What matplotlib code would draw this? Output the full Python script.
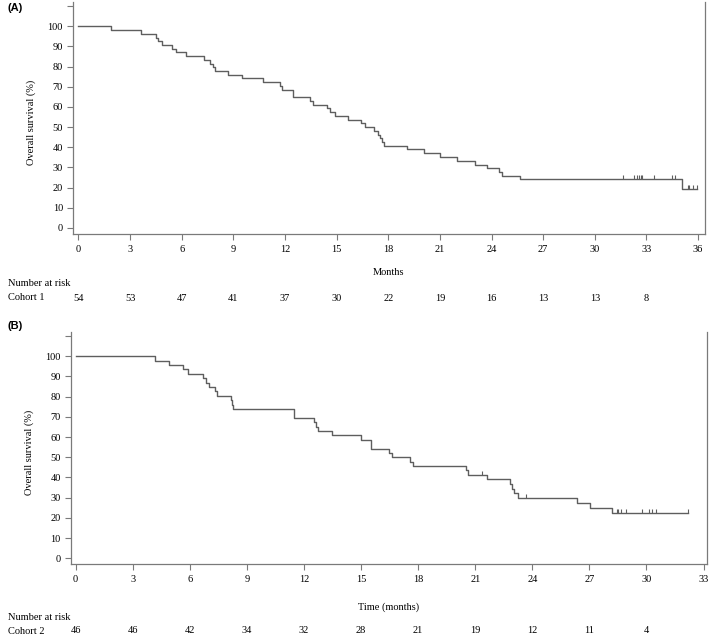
import matplotlib
matplotlib.use("Agg")
import matplotlib.pyplot as plt
import matplotlib.transforms as mtransforms

plt.rcParams['font.family'] = ['Liberation Serif', 'DejaVu Serif']

# ---- Cohort 1 (panel A) ----
time_a = [0, 1.88, 3.66, 4.53, 4.65, 4.84, 5.42, 5.66, 6.25, 7.32, 7.65, 7.80, 7.96,
          8.67, 9.53, 10.73, 11.71, 11.85, 12.49, 13.44, 13.61, 14.46, 14.62, 14.91,
          15.68, 16.42, 16.65, 17.17, 17.42, 17.50, 17.62, 17.77, 19.11, 20.08, 21.0,
          21.97, 23.06, 23.72, 24.46, 24.60, 25.65, 35.07, 35.95]
surv_a = [100, 98.1, 96.3, 94.4, 92.6, 90.7, 88.9, 87.0, 85.2, 83.3, 81.5, 79.6, 77.8,
          75.9, 74.1, 72.2, 70.4, 68.5, 64.8, 63.0, 61.1, 59.3, 57.4, 55.6,
          53.7, 51.9, 50.0, 48.1, 46.3, 44.4, 42.6, 40.7, 38.9, 37.0, 35.2,
          33.3, 31.4, 29.6, 27.8, 25.9, 24.1, 19.3, 19.3]
cens_a_t = [31.65, 32.25, 32.43, 32.56, 32.70, 32.76, 33.43, 34.46, 34.67,
            35.39, 35.45, 35.71, 35.95]
cens_a_s = [24.1] * 9 + [19.3] * 4
ticks_a = [0, 3, 6, 9, 12, 15, 18, 21, 24, 27, 30, 33, 36]
risk_a = [54, 53, 47, 41, 37, 30, 22, 19, 16, 13, 13, 8]

# ---- Cohort 2 (panel B) ----
time_b = [0, 4.17, 4.92, 5.65, 5.92, 6.71, 6.83, 7.02, 7.35, 7.41, 8.14, 8.23, 8.28,
          11.50, 12.54, 12.61, 12.75, 13.45, 14.98, 15.50, 16.48, 16.60, 17.57, 17.71,
          20.50, 20.63, 21.63, 22.82, 22.95, 23.05, 23.25, 26.33, 27.03, 28.20, 32.19]
surv_b = [100, 97.8, 95.7, 93.5, 91.3, 89.1, 87.0, 84.8, 82.6, 80.4, 78.3, 76.1, 73.9,
          69.6, 67.4, 65.2, 63.0, 60.9, 58.7, 54.3, 52.2, 50.0, 47.8, 45.7,
          43.5, 41.3, 39.1, 36.8, 34.5, 32.2, 29.9, 27.3, 24.8, 22.3, 22.3]
cens_b_t = [21.33, 23.65, 28.43, 28.48, 28.67, 28.92, 29.74, 30.13, 30.27, 30.48, 32.19]
cens_b_s = [41.3, 29.9] + [22.3] * 9
ticks_b = [0, 3, 6, 9, 12, 15, 18, 21, 24, 27, 30, 33]
risk_b = [46, 46, 42, 34, 32, 28, 21, 19, 12, 11, 4]

line_col = '#5e5e5e'
axis_col = '#7a7a7a'
fs = 7.5

W, H = 709, 637
fig = plt.figure(figsize=(W / 100, H / 100), dpi=100)


def px_axes(left, top, right, bottom):
    return fig.add_axes([left / W, 1 - bottom / H, (right - left) / W, (bottom - top) / H])


def km_panel(ax, t, s, ct, cs, ticks, xlim, xlabel, xlab_y):
    ax.step(t, s, where='post', color=line_col, lw=1.0)
    # censor marks: short upward ticks
    ax.plot(ct, cs, ls='none', marker=[(0, 0), (0, 1)], markersize=5.5,
            markeredgewidth=0.8, color=line_col)
    ax.set_xlim(*xlim)
    ax.set_ylim(-3, 112)
    ax.set_xticks(ticks)
    ax.set_yticks(range(0, 111, 10))
    ax.set_yticklabels([str(v) for v in range(0, 101, 10)] + [''])
    ax.spines['top'].set_visible(False)
    for sp in ['left', 'bottom', 'right']:
        ax.spines[sp].set_color(axis_col)
        ax.spines[sp].set_linewidth(0.9)
    ax.tick_params(axis='both', colors=axis_col, labelcolor='black', labelsize=fs,
                   length=4, width=0.8, direction='out')
    ax.tick_params(axis='x', pad=4)
    ax.tick_params(axis='y', pad=3)
    ax.set_ylabel('Overall survival (%)', fontsize=fs)
    ax.yaxis.set_label_coords(-0.058, 0.48)
    ax.set_xlabel(xlabel, fontsize=fs)
    ax.xaxis.set_label_coords(0.5, xlab_y)


def risk_row(ax, ticks, risk, y_axes):
    tr = mtransforms.blended_transform_factory(ax.transData, ax.transAxes)
    for x, n in zip(ticks, risk):
        ax.text(x, y_axes, str(n), transform=tr, ha='center', va='center',
                fontsize=fs, clip_on=False)


# Panel A
ax_a = px_axes(72.7, 2, 705, 234)
km_panel(ax_a, time_a, surv_a, cens_a_t, cens_a_s, ticks_a, (-0.33, 36.4),
         'Months', -0.147)
risk_row(ax_a, ticks_a, risk_a, -0.276)
fig.text(8 / W, 1 - 284 / H, 'Number at risk', fontsize=fs, va='center', ha='left')
fig.text(8 / W, 1 - 298 / H, 'Cohort 1', fontsize=fs, va='center', ha='left')
fig.text(8 / W, 1 - 8 / H, '(A)', fontsize=8, fontweight='bold', va='center',
         ha='left', family=['Liberation Sans', 'DejaVu Sans'])

# Panel B
ax_b = px_axes(70.5, 332, 707, 564.3)
km_panel(ax_b, time_b, surv_b, cens_b_t, cens_b_s, ticks_b, (-0.27, 33.18),
         'Time (months)', -0.162)
risk_row(ax_b, ticks_b, risk_b, -0.287)
fig.text(8 / W, 1 - 618 / H, 'Number at risk', fontsize=fs, va='center', ha='left')
fig.text(8 / W, 1 - 631 / H, 'Cohort 2', fontsize=fs, va='center', ha='left')
fig.text(8 / W, 1 - 326 / H, '(B)', fontsize=8, fontweight='bold', va='center',
         ha='left', family=['Liberation Sans', 'DejaVu Sans'])

fig.savefig('out.png', dpi=100)
